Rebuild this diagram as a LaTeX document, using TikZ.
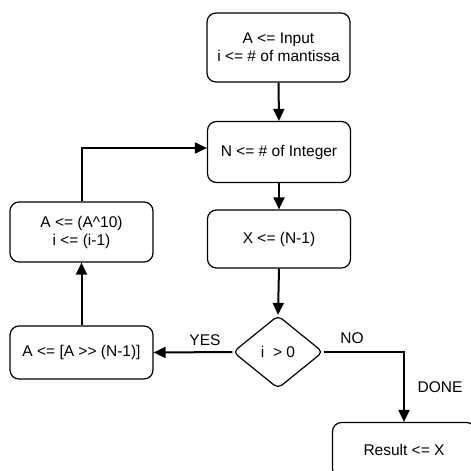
\documentclass[tikz,border=0pt]{standalone}
\usepackage{fontspec}
\setmainfont{Liberation Sans}
\usetikzlibrary{shapes.geometric,arrows.meta}
\begin{document}
\begin{tikzpicture}[x=1pt,y=-1pt,
  every node/.style={font=\fontsize{15.5}{18}\selectfont},
  box/.style={draw, line width=1.2pt, rounded corners=9pt, minimum width=143pt, align=center, inner sep=0pt},
  dia/.style={draw, diamond, line width=1.2pt, rounded corners=5pt, minimum width=90pt, minimum height=73pt, inner sep=0pt},
  conn/.style={line width=2pt, -{Triangle[length=12pt,width=11pt]}},
  lbl/.style={inner sep=0pt}]
\useasboundingbox (0,0) rectangle (471,471);
\clip (0,0) rectangle (471,471);
\node[box, minimum height=69pt] (in) at (278.5,47.5) {A <= Input\\i <= \# of mantissa};
\node[box, minimum height=61pt] (N) at (279,152) {N <= \# of Integer};
\node[box, minimum height=58pt] (X) at (279,239) {X <= (N-1)};
\node[box, minimum height=60pt] (A10) at (81.5,232) {A <= (A\textasciicircum 10)\\i <= (i-1)};
\node[dia] (d) at (278,352) {i\ \ > 0};
\node[box, minimum height=53pt] (Ash) at (81.5,352.5) {A <= [A >{}> (N-1)]};
\node[box, minimum height=55pt] (res) at (404,450) {Result <= X};
\draw[conn] (in.south) -- (N.north);
\draw[conn] (N.south) -- (X.north);
\draw[conn] (X.south) -- (d.north);
\draw[conn] (d.west) -- (Ash.east);
\draw[conn] (Ash.north) -- (A10.south);
\draw[conn] (A10.north) |- ([yshift=4pt]N.west);
\draw[conn] (d.east) -| (res.north);
\node[lbl] (yes) at (205,340) {YES};
\node[lbl] (no) at (352,338) {NO};
\node[lbl] (done) at (440,387) {DONE};
\end{tikzpicture}
\end{document}
